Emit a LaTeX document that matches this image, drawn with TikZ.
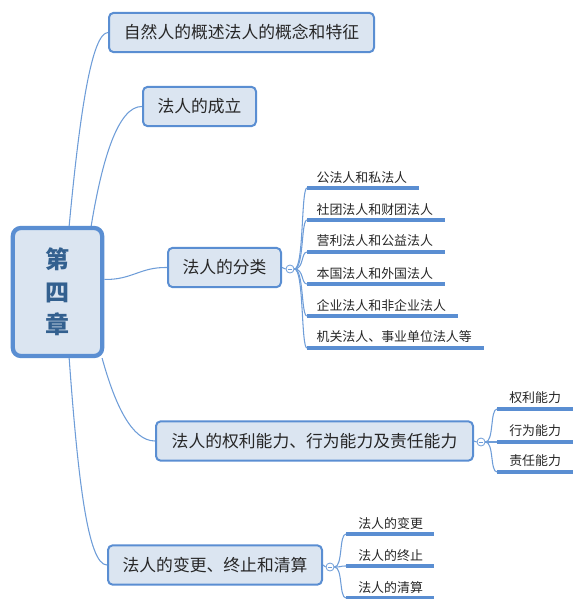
\documentclass[tikz,border=0pt]{standalone}
\usepackage{fontspec}
\usepackage{tikz}
\usetikzlibrary{positioning}
\newfontfamily\cjk{Noto Sans CJK SC}
\definecolor{boxfill}{HTML}{DBE5F1}
\definecolor{boxline}{HTML}{5A8ED2}
\definecolor{linkc}{HTML}{6E9DD8}
\definecolor{roottext}{HTML}{33608F}
\tikzset{
  rootbox/.style={draw=boxline,line width=3.2pt,fill=boxfill,rounded corners=6pt,
    minimum width=67pt,minimum height=96pt,align=center,text=roottext,
    font=\cjk\bfseries\fontsize{18}{24.5}\selectfont},
  topic/.style={draw=boxline,line width=1.5pt,fill=boxfill,rounded corners=3.5pt,
    minimum height=29.5pt,inner xsep=0pt,text=black!85,font=\cjk\fontsize{12.6}{14}\selectfont},
  leaf/.style={inner sep=1pt,text=black!85,font=\cjk\fontsize{9.7}{11}\selectfont},
  uline/.style={draw=boxline,line width=2.4pt},
  link/.style={draw=linkc,line width=0.8pt},
  knob/.style={circle,draw=linkc,line width=0.6pt,fill=white,minimum size=6pt,inner sep=0pt,
    path picture={\draw[linkc,line width=0.6pt] ([xshift=-1.8pt]path picture bounding box.center)
      -- ([xshift=1.8pt]path picture bounding box.center);}}
}
\begin{document}
\begin{tikzpicture}[x=0.75pt,y=-0.75pt]
  \useasboundingbox (0,0) rectangle (581,599);
  % main topic
  \node[rootbox] (root) at (57.5,292) {第\\四\\章};
  % first-level topics
  \node[topic,minimum width=198.75pt] (fr) at (241.5,32.5) {自然人的概述法人的概念和特征};
  \node[topic,minimum width=84.75pt] (cl) at (199.5,106.5) {法人的成立};
  \node[topic,minimum width=84.75pt] (fl) at (224.5,267.5) {法人的分类};
  \node[topic,minimum width=237.75pt] (nl) at (314.5,441) {法人的权利能力、行为能力及责任能力};
  \node[topic,minimum width=160.5pt] (bg) at (215,565) {法人的变更、终止和清算};

  \draw[link] (root.80) .. controls (80,110) and (92,33) .. (fr.west);
  \draw[link] (root.63) .. controls (102,160) and (118,106) .. (cl.west);
  \draw[link] (root.15) .. controls (132,280) and (140,267) .. (fl.west);
  \draw[link] (root.-56) .. controls (115,405) and (132,441) .. (nl.west);
  \draw[link] (root.-80) .. controls (78,480) and (88,565) .. (bg.west);

  % kinds of legal persons
  \node[knob] (k1) at (290,269) {};
  \draw[link] (fl.east) -- (k1.west);
  \foreach \i/\y/\e/\t in {1/188/419/公法人和私法人,
                           2/220/445/社团法人和财团法人,
                           3/252/445/营利法人和公益法人,
                           4/284/445/本国法人和外国法人,
                           5/316/458/企业法人和非企业法人,
                           6/348/484/机关法人、事业单位法人等}{
    \coordinate (a\i) at (307,\y);
    \coordinate (b\i) at (\e,\y);
    \draw[uline] (a\i) -- (b\i);
    \draw[link] (k1.east) .. controls (304,269) and (301,\y) .. (a\i);
    \node[leaf,above right=2.5pt and 6pt of a\i,anchor=south west] (t\i) {\t};
  }

  % capacities
  \node[knob] (k2) at (481,442) {};
  \draw[link] (nl.east) -- (k2.west);
  \foreach \i/\y/\t in {1/409/权利能力,2/442/行为能力,3/472/责任能力}{
    \coordinate (p\i) at (497,\y);
    \coordinate (q\i) at (573,\y);
    \draw[uline] (p\i) -- (q\i);
    \draw[link] (k2.east) .. controls (494,442) and (490,\y) .. (p\i);
    \node[leaf,above right=2.5pt and 8pt of p\i,anchor=south west] (s\i) {\t};
  }

  % change and termination
  \node[knob] (k3) at (330,567) {};
  \draw[link] (bg.east) -- (k3.west);
  \foreach \i/\y/\t in {1/534/法人的变更,2/566/法人的终止,3/598/法人的清算}{
    \coordinate (m\i) at (346,\y);
    \coordinate (n\i) at (434,\y);
    \draw[uline] (m\i) -- (n\i);
    \draw[link] (k3.east) .. controls (343,567) and (339,\y) .. (m\i);
    \node[leaf,above right=2.5pt and 8pt of m\i,anchor=south west] (r\i) {\t};
  }
\end{tikzpicture}
\end{document}
